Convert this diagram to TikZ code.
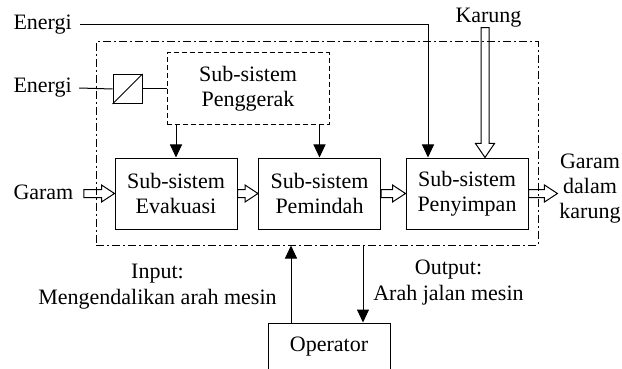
\documentclass[tikz,border=0pt]{standalone}
\usepackage{fontspec}
\setmainfont{Liberation Serif}
\usetikzlibrary{arrows.meta}
\usetikzlibrary{calc}

% panah berongga (putih)
\newcommand{\hollowright}[2]{%
  \draw[fill=white] let \p1=(#1), \p2=(#2) in
    (\x1,\y2+4pt) -- (\x2-13pt,\y2+4pt) -- (\x2-13pt,\y2+8.5pt) -- (\x2,\y2)
    -- (\x2-13pt,\y2-8.5pt) -- (\x2-13pt,\y2-4pt) -- (\x1,\y2-4pt) -- cycle;}
\newcommand{\hollowdown}[2]{%
  \draw[fill=white] let \p1=(#1), \p2=(#2) in
    (\x2-4pt,\y1) -- (\x2-4pt,\y2+14pt) -- (\x2-9.5pt,\y2+14pt) -- (\x2,\y2)
    -- (\x2+9.5pt,\y2+14pt) -- (\x2+4pt,\y2+14pt) -- (\x2+4pt,\y1) -- cycle;}

\tikzset{
  blok/.style={draw, minimum width=122pt, minimum height=71pt, align=center, inner sep=0pt},
  teks/.style={inner sep=0pt, align=center},
  arr/.style={-{Triangle[width=12pt,length=13pt]}},
  sistem/.style={draw, minimum width=442pt, minimum height=203pt,
    dash pattern=on 8pt off 3pt on 2pt off 3pt}
}

\begin{document}
\begin{tikzpicture}[x=1pt, y=-1pt, line width=1pt,
    every node/.style={font=\fontsize{22}{25}\selectfont}]
                \useasboundingbox (0,0) rectangle (622,369);
                \node[blok] (evak) at (176,193.5) {Sub-sistem\\Evakuasi};
                \node[blok] (pind) at (319.5,193.5) {Sub-sistem\\Pemindah};
                \node[blok] (simp) at (467,193.5) {Sub-sistem\\Penyimpan};
                \node[blok, dash pattern=on 5pt off 3pt, minimum width=162pt, minimum height=72pt] (gerak) at (248,89) {Sub-sistem\\Penggerak};
                \node[draw, minimum width=29pt, minimum height=29pt, inner sep=0pt] (konv) at (127.5,89) {};
                \draw (konv.south west) -- (konv.north east);
                \node[blok, minimum height=48pt] (oper) at (329,347) {Operator};

                \node[teks, anchor=west] (en1) at (13,25) {Energi};
                \node[teks, anchor=west] (en2) at (13,88) {Energi};
                \node[teks, anchor=west] (garam) at (13,192.5) {Garam};
                \node[teks] (karung) at (488.5,17.5) {Karung};
                \node[teks] (keluar) at (590,188.5) {Garam\\dalam\\karung};
                \node[teks] (input) at (157.5,287) {Input:\\[1pt]Mengendalikan arah mesin};
                \node[teks] (output) at (448.5,282.5) {Output:\\[1pt]Arah jalan mesin};

                \draw[arr] ([xshift=8pt]en1.east) -| ([xshift=-39pt]simp.north);
                \draw ([xshift=7pt]en2.east) -- (konv.west);
                \draw (konv.east) -- (gerak.west);
                \draw[arr] (gerak.south -| evak.north) -- (evak.north);
                \draw[arr] (gerak.south -| pind.north) -- (pind.north);

                \coordinate (masuk) at ([xshift=10pt]garam.east);
                \coordinate (ujung) at ([xshift=-1.5pt]keluar.west);
                \coordinate (karungbawah) at ([xshift=18pt]simp.north);
                \hollowright{masuk}{evak.west}
                \hollowright{evak.east}{pind.west}
                \hollowright{pind.east}{simp.west}
                \hollowright{simp.east}{ujung |- simp.east}
                \hollowdown{karung.south}{karungbawah}

                \node[sistem] (sis) at (317,143.5) {};
                \draw[arr] ([xshift=-38pt]oper.north) -- ([xshift=-38pt]oper.north |- sis.south);
                \draw[arr] ([xshift=34pt]oper.north |- sis.south) -- ([xshift=34pt]oper.north);
            \end{tikzpicture}
\end{document}
